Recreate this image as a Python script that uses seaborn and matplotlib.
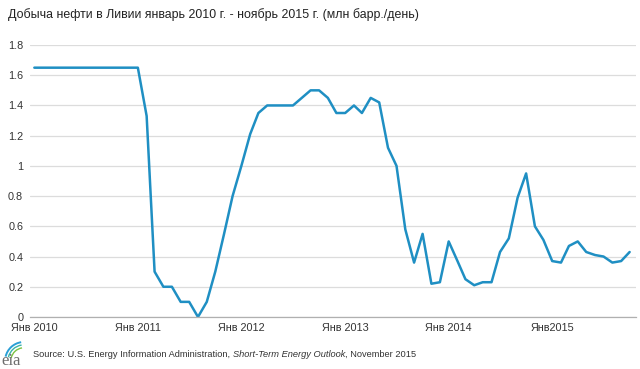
import matplotlib
matplotlib.use("Agg")
import matplotlib.pyplot as plt
import matplotlib.dates as mdates
import matplotlib.ticker as mticker
from matplotlib.patches import Arc
import seaborn as sns
import pandas as pd
import numpy as np

months = pd.date_range("2010-01-01", periods=70, freq="MS")
production = [
    1.65, 1.65, 1.65, 1.65, 1.65, 1.65, 1.65, 1.65, 1.65, 1.65, 1.65, 1.65,
    1.65, 1.33, 0.30, 0.20, 0.20, 0.10, 0.10, 0.00, 0.10, 0.30, 0.55, 0.80,
    1.00, 1.21, 1.35, 1.40, 1.40, 1.40, 1.40, 1.45, 1.50, 1.50, 1.45, 1.35,
    1.35, 1.40, 1.35, 1.45, 1.42, 1.12, 1.00, 0.58, 0.36, 0.55, 0.22, 0.23,
    0.50, 0.37, 0.25, 0.21, 0.23, 0.23, 0.43, 0.52, 0.79, 0.95, 0.60, 0.51,
    0.37, 0.36, 0.47, 0.50, 0.43, 0.41, 0.40, 0.36, 0.37, 0.43,
]
year_labels = ["Янв 2010", "Янв 2011", "Янв 2012", "Янв 2013", "Янв 2014", "Янв2015"]
year_ticks = pd.to_datetime(["2010-01-01", "2011-01-01", "2012-01-01",
                             "2013-01-01", "2014-01-01", "2015-01-01"])
y_ticks = [0, 0.2, 0.4, 0.6, 0.8, 1, 1.2, 1.4, 1.6, 1.8]

title = "Добыча нефти в Ливии январь 2010 г. - ноябрь 2015 г. (млн барр./день)"

sns.set_theme(style="white")
plt.rcParams["font.family"] = ["Liberation Sans", "DejaVu Sans"]

df = pd.DataFrame({"month": months, "value": production})

fig = plt.figure(figsize=(6.4, 3.69), dpi=100)
ax = fig.add_axes([0.047, 0.141, 0.947, 0.737])

sns.lineplot(data=df, x="month", y="value", ax=ax, color="#1f8fc3", linewidth=1.8)

ax.set_ylim(0, 1.8)
ax.set_xlim(pd.Timestamp("2009-12-17"), pd.Timestamp("2015-10-24"))
ax.set_yticks(y_ticks)
ax.yaxis.set_major_formatter(mticker.FuncFormatter(lambda v, p: f"{v:g}"))
ax.set_xticks(year_ticks)
ax.set_xticklabels(year_labels)
ax.xaxis.set_minor_locator(mdates.MonthLocator())
ax.set_xlabel("")
ax.set_ylabel("")

ax.grid(axis="y", color="#dcdcdc", linewidth=0.9)
ax.set_axisbelow(True)
for side in ["top", "right", "left"]:
    ax.spines[side].set_visible(False)
ax.spines["bottom"].set_color("#b0b0b0")
ax.spines["bottom"].set_linewidth(0.9)

ax.tick_params(axis="y", length=0, labelsize=7.8, labelcolor="#333333", pad=5)
ax.tick_params(axis="x", which="both", direction="out", length=3.5, width=0.7,
               color="#b0b0b0", labelsize=7.8, labelcolor="#333333", pad=1)

fig.text(0.012, 0.96, title, fontsize=8.9, color="#222222", ha="left", va="center")

# EIA logo-like mark
fig.text(0.002, 0.012, "eia", fontsize=12, color="#6d6d6d", ha="left", va="baseline",
         family=["Liberation Serif", "DejaVu Serif"])
for w, c, lw in [(0.059, "#2a9fd6", 1.4), (0.050, "#3bb3a8", 1.0), (0.041, "#7cc242", 1.0)]:
    fig.add_artist(Arc((0.0375, 0.022), w, w * 640 / 369, theta1=95, theta2=158,
                       transform=fig.transFigure, color=c, linewidth=lw))

fig.canvas.draw()
renderer = fig.canvas.get_renderer()
parts = [("Source: U.S. Energy Information Administration, ", "normal"),
         ("Short-Term Energy Outlook", "italic"),
         (", November 2015", "normal")]
x = 0.052
for s, st in parts:
    t = fig.text(x, 0.04, s, fontsize=6.7, color="#333333", style=st,
                 ha="left", va="center")
    bb = t.get_window_extent(renderer=renderer)
    x += bb.width / fig.bbox.width

fig.savefig("out.png", dpi=100, facecolor="white")
